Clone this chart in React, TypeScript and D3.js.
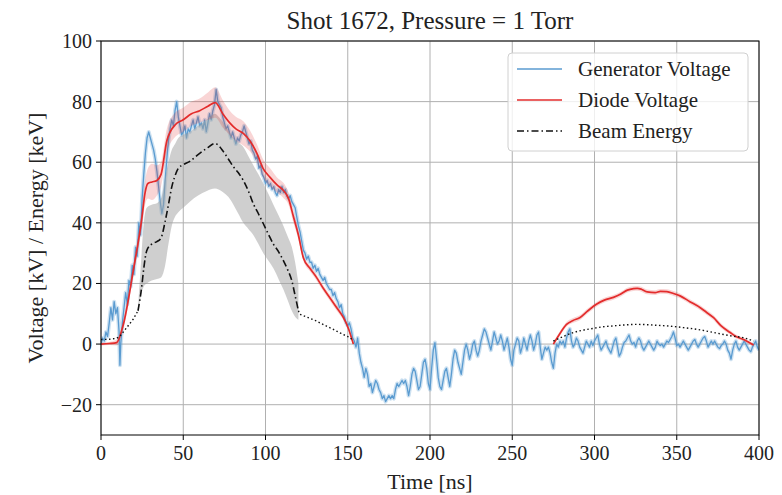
import React from "react";
import * as d3 from "d3";

const title = "Shot 1672, Pressure = 1 Torr";
const xLabel = "Time [ns]";
const yLabel = "Voltage [kV] / Energy [keV]";
const xTicks = [0, 50, 100, 150, 200, 250, 300, 350, 400];
const yTicks = [-20, 0, 20, 40, 60, 80, 100];
const legendLabels = ["Generator Voltage", "Diode Voltage", "Beam Energy"];

// Generator voltage [t (ns), V (kV)]
const generatorVoltage: [number, number][] = [
  [0,0],[1,2],[2,1],[3,4],[4,2.5],[5,7],[6,12],[7,8],[8,14],[9,10],[10,12],[11,4],[11.5,-7],[12,0],[13,7],[14,12],[15,17],[16,13],[17,21],[18,19],[19,26],[20,23],[21,32],[22,29],[23,40],[24,36],[25,48],[26,56],[27,63],[28,68],[29,70],[30,68],[31,66],[32,64],[33,61],[34,57],[35,52],[36,47],[37,43],[38,46],[39,54],[40,61],[41,67],[42,71],[43,74],[44,72],[45,77],[46,80],[47,75],[48,72],[49,69],[50,70],[51,72],[52,68],[53,71],[54,70],[55,72],[56,74],[57,71],[58,73],[59,75],[60,72],[61,73],[62,71],[63,74],[64,70],[65,73],[66,76],[67,74],[68,77],[69,79],[70,84],[71,80],[72,79],[73,78],[74,75],[75,73],[76,71],[77,72],[78,70],[79,68],[80,70],[81,68],[82,66],[83,68],[84,67],[85,69],[86,70],[87,72],[88,70],[89,68],[90,66],[91,67],[92,64],[93,63],[94,61],[95,62],[96,58],[97,59],[98,56],[99,55],[100,53],[101,54],[102,52],[103,53],[104,51],[105,52],[106,50],[107,49],[108,51],[109,50],[110,52],[111,50],[112,51],[113,49],[114,48],[115,49],[116,47],[117,46],[118,45],[119,42],[120,39],[121,37],[122,34],[123,31],[124,30],[125,28],[126,29],[127,27],[128,27],[129,25],[130,26],[131,24],[132,25],[133,23],[134,22],[135,21],[136,22],[137,20],[138,19],[139,18],[140,18],[141,16],[142,17],[143,15],[144,14],[145,12],[146,13],[147,10],[148,9],[149,7],[150,6],[151,7],[152,5],[153,2],[154,1],[155,-1],[156,2],[157,-3],[158,-6],[159,-8],[160,-11],[161,-8],[162,-10],[163,-14],[164,-13],[165,-16],[166,-14],[167,-12],[168,-13],[169,-15],[170,-16],[171,-18],[172,-17],[173,-19],[174,-18],[175,-17],[176,-18],[177,-17],[178,-18],[179,-15],[180,-13],[181,-14],[182,-13],[183,-12],[184,-13],[185,-12],[186,-14],[187,-17],[188,-14],[189,-10],[190,-8],[191,-9],[192,-12],[193,-15],[194,-14],[195,-10],[196,-6],[197,-5],[198,-8],[199,-13],[200,-15],[201,-8],[202,-2],[203,0.5],[204,-5],[205,-11],[206,-14],[207,-15],[208,-12],[209,-9],[210,-8],[211,-11],[212,-14],[213,-10],[214,-5],[215,-2],[216,-3],[217,-6],[218,-8],[219,-10],[220,-6],[221,-2],[222,0],[223,-2],[224,-5],[225,-3],[226,0],[227,1],[228,-2],[229,-4],[230,-2],[231,1],[232,3],[233,5],[234,4],[235,2],[236,0],[237,-2],[238,1],[239,4],[240,2],[241,0],[242,1],[243,3],[244,1],[245,-2],[246,0],[247,2],[248,-1],[249,-5],[250,-7],[251,-2],[252,0],[253,2],[254,1],[255,-3],[256,-1],[257,2],[258,0],[259,-2],[260,1],[261,3],[262,1],[263,-2],[264,0],[265,3],[266,4],[267,-1],[268,-5],[269,-3],[270,-1],[271,-2],[272,-1],[273,-3],[274,-6],[275,-8],[276,-3],[277,0],[278,-1],[279,1],[280,0],[281,1],[282,-1],[283,2],[284,4],[285,5],[286,1],[287,-1],[288,0],[289,2],[290,1],[291,-1],[292,-2],[293,-3],[294,-1],[295,1],[296,0],[297,-1],[298,1],[299,-0.5],[300,1],[301,2],[302,3],[303,0],[304,-2],[305,-1],[306,0],[307,1],[308,-1],[309,-2],[310,-3],[311,-1],[312,1],[313,2],[314,-1],[315,-4],[316,-3],[317,-1],[318,0.5],[319,1],[320,2],[321,3],[322,1],[323,0],[324,0.5],[325,-1],[326,1],[327,2],[328,1],[329,-1],[330,-2],[331,-1],[332,0],[333,1],[334,0],[335,-1],[336,-2],[337,-1],[338,1],[339,0],[340,-0.5],[341,0],[342,-1],[343,0],[344,1],[345,0.5],[346,1.5],[347,2.5],[348,4],[349,2],[350,-0.5],[351,0],[352,-1],[353,0],[354,1],[355,0],[356,-1],[357,-2],[358,-1],[359,0],[360,1],[361,1.5],[362,0],[363,-1],[364,0],[365,1],[366,2],[367,2.5],[368,1],[369,-1],[370,0],[371,1],[372,0],[373,1],[374,0],[375,-1],[376,-1.5],[377,-0.5],[378,0],[379,1],[380,0],[381,-2],[382,-3],[383,-5],[384,-2],[385,0],[386,1],[387,-1],[388,-2],[389,-1],[390,0],[391,1],[392,0],[393,-1],[394,-2],[395,-2.5],[396,-1],[397,0],[398,1],[399,-1],[400,-2]
];

// Diode voltage [t, V, uncertainty half-width]
const diodeVoltageA: [number, number, number][] = [
  [0,0,0.5],[5,0.2,0.5],[9.5,0.5,1],[13.6,6.5,1.5],[19.6,24.2,2],[24.7,41,3],[26.8,50,4],[28.5,53,5],[31,53.5,6],[34,54,5],[36.5,56,4],[40,67,4],[45,72.3,4],[50,74,4],[55,76,4],[60,77,4],[65,78.5,4.5],[69.5,79.7,5],[74,76,4.5],[78.4,72.9,4],[82,71,4],[86.5,69.5,4],[90.6,67,3.5],[94.7,63,3],[98.5,58,3],[102.8,55,3],[107,52.5,2.5],[110.9,50.7,2.5],[114,48,2],[117,42,2],[120,36,1.5],[123,28.5,1],[127,25,1],[131,22,1],[135,18.5,1],[139,15.4,1],[143.3,12,1],[147.4,8.7,0.8],[150.5,5,0.6],[153.4,0,0.5]
];
const diodeVoltageB: [number, number, number][] = [
  [275,0,0.6],[279,3.5,0.7],[283,6.5,0.8],[287,7.8,0.8],[291,8.7,0.8],[296,11,0.8],[301.4,13.2,0.8],[306,14.5,0.8],[311.5,15.4,0.8],[316,16.5,0.8],[320,17.8,0.8],[323.7,18.3,0.8],[326,18.4,0.8],[328.5,18.1,0.8],[332,17.2,0.8],[336.9,17,0.8],[340,17.4,0.8],[344,17.3,0.8],[348,16.7,0.8],[352,15.9,0.8],[358,14,0.8],[364.3,12,0.8],[368,10.5,0.8],[372.4,8.7,0.8],[377,6,0.8],[382.5,3.8,0.7],[386,2.5,0.7],[390.6,1.5,0.6],[394,0.5,0.6],[396.7,-0.3,0.5]
];

// Beam energy: measured part [t, E, low, high]
const beamEnergy: [number, number, number, number][] = [
  [22.5,11,10,12],[24.7,18.7,17,30],[26,25,19,40],[27.8,30.8,20,45],[30.8,33,21,46],[34,33.8,21.5,46.5],[36.5,35,22,48],[39,40.5,26,55],[41,46,33,60],[43,51.8,39,64],[45,55.5,42,66],[47,58,43.5,68],[50,59.2,45,69],[54,60.3,47,70],[59,62.5,49,72],[64.3,64.6,50.5,74],[69.3,66.2,51.3,76],[71.5,65.5,51,75],[74.4,63.5,50,73],[77.5,61,48.5,70.5],[80.5,58.5,46,68],[83.5,56.5,43,66.5],[86.5,54,40,65],[89.6,50.5,38,62],[92.6,46.3,36,59],[95.7,43,33,56],[98.7,39.7,30,53],[101.8,36.2,27.5,49.5],[104.8,33,25,46],[107.9,30.5,21.5,42.5],[110.9,27.5,18,39],[113.5,24.5,14.5,35.5],[116,20.9,11,32],[118,16,9,27],[120,11,8,20]
];
// Beam energy: extrapolated (dotted) parts
const beamDottedA: [number, number][] = [[0,1.5],[5,1.6],[9.5,1.9],[11.5,2.6],[15,5],[19.6,8.2],[22.5,11]];
const beamDottedB: [number, number][] = [[120,11],[121,9.8],[126,8.7],[131,7.6],[136,6.2],[141,4.9],[146,3.5],[151.4,2.1],[153,1.2]];
const beamDottedC: [number, number][] = [[275,1],[281,2.5],[287.2,3.8],[293,4.6],[299.4,5.2],[305,5.7],[311.5,6],[318,6.3],[325.7,6.5],[332,6.4],[337.9,6.2],[344,6],[350,5.7],[356,5.3],[362,4.9],[369,4.2],[376.4,3.4],[383,2.7],[390.6,2.1],[396.7,1]];

const W = 782, H = 495;
const L = 101, R = 759, T = 41, B = 435;
const FONT = "'Liberation Serif', 'Times New Roman', serif";

export default function App() {
  const x = d3.scaleLinear().domain([0, 400]).range([L, R]);
  const y = d3.scaleLinear().domain([-30, 100]).range([B, T]);
  const smooth = d3.curveMonotoneX;

  const line2 = d3.line<[number, number]>().x(d => x(d[0])).y(d => y(d[1]));
  const line2s = d3.line<[number, number]>().x(d => x(d[0])).y(d => y(d[1])).curve(smooth);
  const lineD = d3.line<[number, number, number]>().x(d => x(d[0])).y(d => y(d[1])).curve(smooth);
  const areaD = d3.area<[number, number, number]>().x(d => x(d[0])).y0(d => y(d[1] - d[2])).y1(d => y(d[1] + d[2])).curve(smooth);
  const lineB = d3.line<[number, number, number, number]>().x(d => x(d[0])).y(d => y(d[1])).curve(smooth);
  const areaB = d3.area<[number, number, number, number]>().x(d => x(d[0])).y0(d => y(d[2])).y1(d => y(d[3])).curve(smooth);

  const blue = "#5a9bd0";
  const red = "#e32c2c";
  const dashDot = "7,3,1.5,3";
  const dotted = "1.5,2.5";

  return (
    <div style={{ position: "absolute", left: 0, top: 0 }}>
      <svg width={W} height={H} style={{ display: "block", background: "#fff" }}>
        <defs>
          <clipPath id="plotclip">
            <rect x={L} y={T} width={R - L} height={B - T} />
          </clipPath>
        </defs>
        {/* grid */}
        <g stroke="#b0b0b0" strokeWidth={1}>
          {xTicks.map(t => (
            <line key={"gx" + t} x1={x(t)} x2={x(t)} y1={T} y2={B} />
          ))}
          {yTicks.map(t => (
            <line key={"gy" + t} x1={L} x2={R} y1={y(t)} y2={y(t)} />
          ))}
        </g>
        <g clipPath="url(#plotclip)">
          {/* generator */}
          <path d={line2(generatorVoltage) || ""} fill="none" stroke={blue} strokeOpacity={0.3} strokeWidth={4} strokeLinejoin="round" />
          <path d={line2(generatorVoltage) || ""} fill="none" stroke={blue} strokeWidth={1.3} strokeLinejoin="round" />
          {/* beam band */}
          <path d={areaB(beamEnergy) || ""} fill="#a0a0a0" fillOpacity={0.5} stroke="none" />
          {/* diode band */}
          <path d={areaD(diodeVoltageA) || ""} fill={red} fillOpacity={0.2} />
          <path d={areaD(diodeVoltageB) || ""} fill={red} fillOpacity={0.2} />
          <path d={lineD(diodeVoltageA) || ""} fill="none" stroke={red} strokeWidth={1.7} />
          <path d={lineD(diodeVoltageB) || ""} fill="none" stroke={red} strokeWidth={1.7} />
          {/* beam lines */}
          <path d={lineB(beamEnergy) || ""} fill="none" stroke="#111" strokeWidth={1.6} strokeDasharray={dashDot} />
          <path d={line2(beamDottedA) || ""} fill="none" stroke="#111" strokeWidth={1.4} strokeDasharray={dotted} />
          <path d={line2(beamDottedB) || ""} fill="none" stroke="#111" strokeWidth={1.4} strokeDasharray={dotted} />
          <path d={line2s(beamDottedC) || ""} fill="none" stroke="#111" strokeWidth={1.4} strokeDasharray={dotted} />
        </g>
        {/* axes frame */}
        <rect x={L} y={T} width={R - L} height={B - T} fill="none" stroke="#000" strokeWidth={1} />
        {/* ticks */}
        <g stroke="#000" strokeWidth={1}>
          {xTicks.map(t => (
            <line key={"tx" + t} x1={x(t)} x2={x(t)} y1={B} y2={B + 5} />
          ))}
          {yTicks.map(t => (
            <line key={"ty" + t} x1={L - 5} x2={L} y1={y(t)} y2={y(t)} />
          ))}
        </g>
        <g fontFamily={FONT} fontSize={20} fill="#222">
          {xTicks.map(t => (
            <text key={"lx" + t} x={x(t)} y={B + 25} textAnchor="middle">{String(t)}</text>
          ))}
          {yTicks.map(t => (
            <text key={"ly" + t} x={L - 9} y={y(t) + 7} textAnchor="end">{t < 0 ? "\u2212" + Math.abs(t) : String(t)}</text>
          ))}
        </g>
        <text x={(L + R) / 2} y={489} textAnchor="middle" fontFamily={FONT} fontSize={22} fill="#222">{xLabel}</text>
        <text transform={`translate(43,${(T + B) / 2}) rotate(-90)`} textAnchor="middle" fontFamily={FONT} fontSize={22} fill="#222">{yLabel}</text>
        <text x={(L + R) / 2} y={29} textAnchor="middle" fontFamily={FONT} fontSize={25} fill="#222">{title}</text>
        {/* legend */}
        <g>
          <rect x={508} y={53} width={240} height={98} rx={4} fill="#fff" fillOpacity={0.8} stroke="#d0d0d0" strokeWidth={1} />
          {legendLabels.map((lab, i) => {
            const ly = 69 + i * 31;
            const style = i === 0
              ? { stroke: blue, dash: undefined as string | undefined, w: 1.5 }
              : i === 1
              ? { stroke: red, dash: undefined, w: 1.7 }
              : { stroke: "#111", dash: dashDot, w: 1.6 };
            return (
              <g key={lab}>
                <line x1={517} x2={562} y1={ly} y2={ly} stroke={style.stroke} strokeWidth={style.w} strokeDasharray={style.dash} />
                <text x={578} y={ly + 7} fontFamily={FONT} fontSize={21} fill="#222">{lab}</text>
              </g>
            );
          })}
        </g>
      </svg>
    </div>
  );
}
